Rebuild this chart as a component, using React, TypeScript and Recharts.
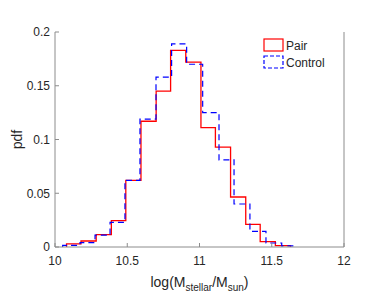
import { LineChart, Line, XAxis, YAxis, Legend, Label } from "recharts";

// bin edges (log M) and pdf heights
const pairEdges = [10.08, 10.18, 10.285, 10.39, 10.49, 10.595, 10.7, 10.8, 10.905, 11.01, 11.11, 11.215, 11.32, 11.42, 11.525, 11.63];
const pairPdf = [0.003, 0.0056, 0.0115, 0.0245, 0.062, 0.117, 0.145, 0.183, 0.172, 0.111, 0.093, 0.0465, 0.021, 0.005, 0.0012];

const controlEdges = [10.053, 10.173, 10.277, 10.381, 10.484, 10.588, 10.699, 10.807, 10.911, 11.022, 11.135, 11.239, 11.349, 11.46, 11.569, 11.668];
const controlPdf = [0.0015, 0.004, 0.011, 0.023, 0.062, 0.119, 0.158, 0.189, 0.17, 0.125, 0.081, 0.04, 0.0146, 0.0037, 0.001];

const xTicks = [10, 10.5, 11, 11.5, 12];
const yTicks = [0, 0.05, 0.1, 0.15, 0.2];

const colors = {
  pair: "#ff0000",
  control: "#0000ff",
  axis: "#8c8c8c",
  text: "#262626",
};

const font = "'Liberation Sans', Arial, Helvetica, sans-serif";

// stairs outline: rise from 0 at first edge, drop to 0 at last edge
function toSteps(edges: number[], values: number[]) {
  const pts = [{ x: edges[0], y: 0 }];
  edges.forEach((e, i) => {
    pts.push({ x: e, y: i < values.length ? values[i] : 0 });
  });
  return pts;
}

const pairData = toSteps(pairEdges, pairPdf);
const controlData = toSteps(controlEdges, controlPdf);

const legendItems = [
  { name: "Pair", color: colors.pair, dash: undefined },
  { name: "Control", color: colors.control, dash: "4 2" },
];

function LegendBox() {
  return (
    <div style={{ fontFamily: font, fontSize: 12, color: colors.text }}>
      {legendItems.map((it) => (
        <div key={it.name} style={{ display: "flex", alignItems: "center", height: 17 }}>
          <svg width={22} height={15} style={{ display: "block" }}>
            <rect
              x={1}
              y={1}
              width={19}
              height={12}
              fill="none"
              stroke={it.color}
              strokeWidth={1.2}
              strokeDasharray={it.dash}
            />
          </svg>
          <span style={{ marginLeft: 1 }}>{it.name}</span>
        </div>
      ))}
    </div>
  );
}

function XLabel(props: any) {
  const vb = props.viewBox || { x: 0, y: 0, width: 0 };
  return (
    <text
      x={vb.x + vb.width / 2}
      y={vb.y + 40}
      textAnchor="middle"
      fill={colors.text}
      fontFamily={font}
      fontSize={14}
    >
      log(M
      <tspan dy={4} fontSize={10}>stellar</tspan>
      <tspan dy={-4} fontSize={14}>/M</tspan>
      <tspan dy={4} fontSize={10}>sun</tspan>
      <tspan dy={-4} fontSize={14}>)</tspan>
    </text>
  );
}

function YLabel(props: any) {
  const vb = props.viewBox || { x: 0, y: 0, height: 0 };
  const cx = 17;
  const cy = vb.y + vb.height / 2;
  return (
    <text
      x={cx}
      y={cy}
      transform={`rotate(-90 ${cx} ${cy})`}
      textAnchor="middle"
      dominantBaseline="central"
      fill={colors.text}
      fontFamily={font}
      fontSize={14}
    >
      pdf
    </text>
  );
}

export default function App() {
  const tickStyle = { fill: colors.text, fontSize: 12, fontFamily: font };
  return (
    <div style={{ position: "absolute", left: 0, top: 0, width: 382, height: 305, background: "#fff" }}>
      <LineChart width={382} height={305} margin={{ top: 32, right: 37, bottom: 0, left: 0 }}>
        <XAxis
          dataKey="x"
          type="number"
          domain={[10, 12]}
          ticks={xTicks}
          allowDataOverflow
          stroke={colors.axis}
          tick={tickStyle}
          tickSize={-4}
          tickMargin={13}
          height={58}
        >
          <Label content={<XLabel />} />
        </XAxis>
        <XAxis
          xAxisId="top"
          orientation="top"
          type="number"
          domain={[10, 12]}
          ticks={xTicks}
          allowDataOverflow
          stroke={colors.axis}
          tick={false}
          tickSize={-4}
          height={0}
        />
        <YAxis
          type="number"
          domain={[0, 0.2]}
          ticks={yTicks}
          allowDataOverflow
          stroke={colors.axis}
          tick={tickStyle}
          tickSize={-4}
          tickMargin={9}
          width={55}
        >
          <Label content={<YLabel />} />
        </YAxis>
        <YAxis
          yAxisId="right"
          orientation="right"
          type="number"
          domain={[0, 0.2]}
          ticks={yTicks}
          allowDataOverflow
          stroke={colors.axis}
          tick={false}
          tickSize={-4}
          width={1}
        />
        <Legend
          layout="vertical"
          align="center"
          verticalAlign="middle"
          content={<LegendBox />}
          wrapperStyle={{ position: "absolute", left: 263, top: 37, width: 80 }}
        />
        <Line
          data={pairData}
          dataKey="y"
          name="Pair"
          type="stepAfter"
          stroke={colors.pair}
          strokeWidth={1.3}
          dot={false}
          activeDot={false}
          isAnimationActive={false}
        />
        <Line
          data={controlData}
          dataKey="y"
          name="Control"
          type="stepAfter"
          stroke={colors.control}
          strokeWidth={1.2}
          strokeDasharray="6 4"
          dot={false}
          activeDot={false}
          isAnimationActive={false}
        />
      </LineChart>
    </div>
  );
}
